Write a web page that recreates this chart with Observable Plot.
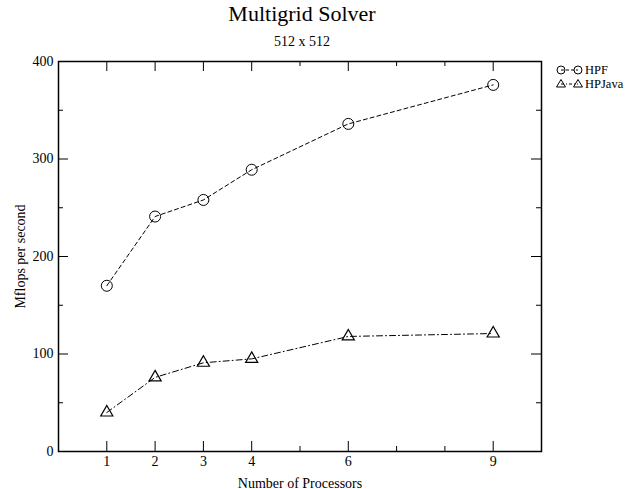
<!DOCTYPE html>
<html>
<head>
<meta charset="utf-8">
<script src="https://cdn.jsdelivr.net/npm/d3@7"></script>
<script src="https://cdn.jsdelivr.net/npm/@observablehq/plot@0.6"></script>
<style>
  body { margin: 0; background: white; font-family: "Liberation Serif", serif; }
  #wrap { position: relative; width: 639px; height: 489px; overflow: hidden; }
  #title { position: absolute; left: 0; width: 604px; top: 3px; text-align: center; font-size: 22px; line-height: 22px; }
  #subtitle { position: absolute; left: 0; width: 604px; top: 35px; text-align: center; font-size: 14px; line-height: 14px; }
  #legend { position: absolute; left: 550px; top: 60px; }
  #chart { position: absolute; left: 0; top: 0; }
</style>
</head>
<body>
<div id="wrap">
  <div id="chart"></div>
  <div id="title">Multigrid Solver</div>
  <div id="subtitle">512 x 512</div>
  <svg id="legend" width="89" height="34" font-family="Liberation Serif, serif" font-size="12.5">
    <line x1="11" y1="10" x2="28" y2="10" stroke="black" stroke-dasharray="3,2"></line>
    <circle cx="11" cy="10" r="4" fill="none" stroke="black"></circle>
    <circle cx="28" cy="10" r="4" fill="none" stroke="black"></circle>
    <text x="35" y="14">HPF</text>
    <line x1="11" y1="24" x2="28" y2="24" stroke="black" stroke-dasharray="3,2,1,2"></line>
    <path d="M11,19.5L15.5,27L6.5,27Z" fill="none" stroke="black"></path>
    <path d="M28,19.5L32.5,27L23.5,27Z" fill="none" stroke="black"></path>
    <text x="35" y="28">HPJava</text>
  </svg>
</div>
<script>
// ---- data ----
const processors = [1, 2, 3, 4, 6, 9];
const hpf = [170, 241, 258, 289, 336, 376];
const hpjava = [40, 76, 91, 95, 118, 121];
const xMajorTicks = [1, 2, 3, 4, 6, 9];
const xMinorTicks = [5, 7, 8];
const yMajorTicks = [0, 100, 200, 300, 400];
const yMinorTicks = [50, 150, 250, 350];

const hpfData = processors.map((p, i) => ({p, v: hpf[i]}));
const hpjData = processors.map((p, i) => ({p, v: hpjava[i]}));

const W = 639, H = 489, mL = 58, mR = 98, mT = 61, mB = 38;
const xDomain = [0, 10], yDomain = [0, 400];
// convert a pixel tick length to data units for each axis
const pxPerX = (W - mL - mR) / (xDomain[1] - xDomain[0]);
const pxPerY = (H - mT - mB) / (yDomain[1] - yDomain[0]);
const ux = (px) => px / pxPerX;
const uy = (px) => px / pxPerY;
const [x0, x1] = xDomain, [y0, y1] = yDomain;

function xTicks(vals, len) {
  return [
    Plot.ruleX(vals, {y1: y0, y2: y0 + uy(len), stroke: "black", strokeWidth: 1}),
    Plot.ruleX(vals, {y1: y1, y2: y1 - uy(len), stroke: "black", strokeWidth: 1})
  ];
}
function yTicks(vals, len) {
  return [
    Plot.ruleY(vals, {x1: x0, x2: x0 + ux(len), stroke: "black", strokeWidth: 1}),
    Plot.ruleY(vals, {x1: x1, x2: x1 - ux(len), stroke: "black", strokeWidth: 1})
  ];
}

const chart = Plot.plot({
  width: W,
  height: H,
  marginLeft: mL,
  marginRight: mR,
  marginTop: mT,
  marginBottom: mB,
  style: {fontFamily: "Liberation Serif, serif", fontSize: "14px", color: "black", background: "transparent"},
  x: {domain: xDomain},
  y: {domain: yDomain},
  marks: [
    ...xTicks(xMajorTicks, 10),
    ...xTicks(xMinorTicks, 5),
    ...yTicks(yMajorTicks.slice(1, -1), 10),
    ...yTicks(yMinorTicks, 5),
    Plot.axisX(xMajorTicks, {anchor: "bottom", tickSize: 0, tickPadding: 5, label: "Number of Processors", labelAnchor: "center", labelArrow: "none", labelOffset: 36, fontSize: 14}),
    Plot.axisY(yMajorTicks, {anchor: "left", tickSize: 0, tickPadding: 5, label: "Mflops per second", labelAnchor: "center", labelArrow: "none", labelOffset: 43, fontSize: 14}),
    Plot.frame({stroke: "black", strokeWidth: 1.5}),
    Plot.dot(hpfData, {x: "p", y: "v", r: 5.5, stroke: "black", fill: "none", strokeWidth: 1}),
    Plot.line(hpfData, {x: "p", y: "v", stroke: "black", strokeWidth: 1, strokeDasharray: "4,3"}),
    Plot.dot(hpjData, {x: "p", y: "v", symbol: "triangle", r: 4.5, stroke: "black", fill: "none", strokeWidth: 1.2}),
    Plot.line(hpjData, {x: "p", y: "v", stroke: "black", strokeWidth: 1, strokeDasharray: "6,3,1,3"})
  ]
});
document.getElementById("chart").appendChild(chart);
</script>
</body>
</html>
